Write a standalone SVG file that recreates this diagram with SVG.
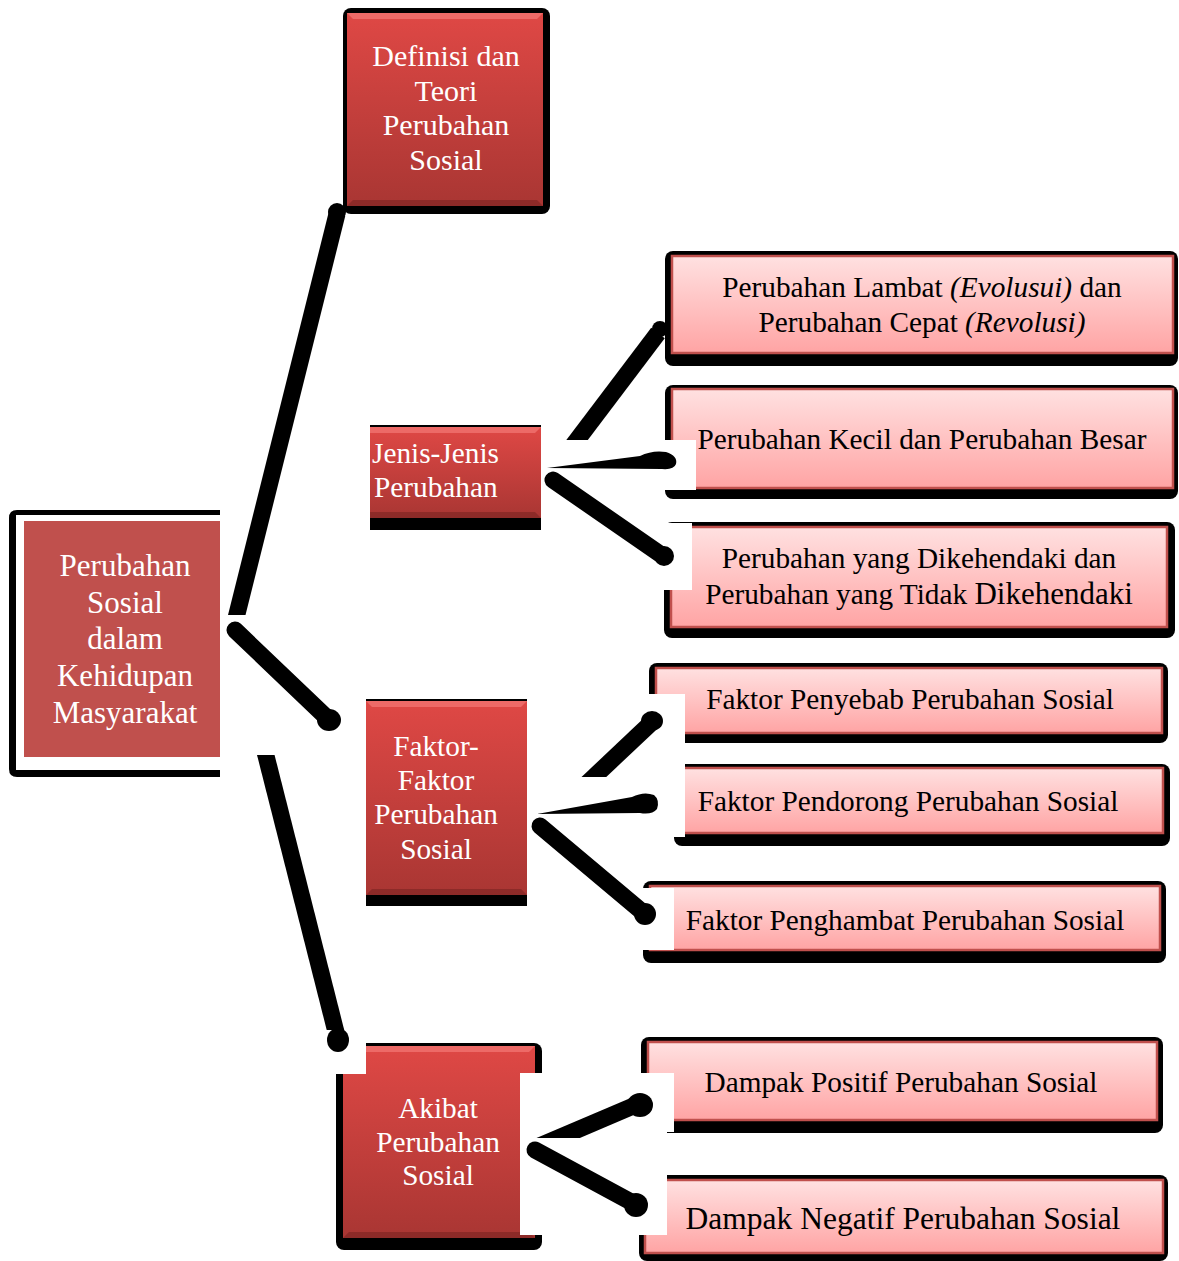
<svg xmlns="http://www.w3.org/2000/svg" width="1179" height="1261" viewBox="0 0 1179 1261">
<defs>
<linearGradient id="red" x1="0" y1="0" x2="0" y2="1">
<stop offset="0" stop-color="#DF4845"/><stop offset="1" stop-color="#A93633"/>
</linearGradient>
<linearGradient id="pink" x1="0" y1="0" x2="0" y2="1">
<stop offset="0" stop-color="#FFE1E1"/><stop offset="1" stop-color="#FFA4A4"/>
</linearGradient>
<clipPath id="clipA1"><rect x="500" y="1060" width="200" height="78"/></clipPath>
<clipPath id="clipK1"><rect x="500" y="690" width="200" height="87"/></clipPath>
</defs>
<style>
.sh{fill:#000}
.rd{fill:url(#red)}
.pk{fill:url(#pink);stroke:#C0504D;stroke-width:2.5}
.hi{fill:#F27673;opacity:.75}
.lo{fill:#7A2321;opacity:.6}
.wt{font-family:"Liberation Serif","Times New Roman",serif;font-size:30px;fill:#fff;text-anchor:middle}
.bt{font-family:"Liberation Serif","Times New Roman",serif;font-size:29.3px;fill:#000;text-anchor:middle}
.ln{stroke:#000;stroke-width:17;fill:none}
.occ{fill:#fff}
.blob{fill:#000}
</style>
<rect width="1179" height="1261" fill="#fff"/>

<g id="root">
<path class="sh" d="M220,510 H17 Q9,510 9,518 V769 Q9,777 17,777 H220 Z"/>
<rect x="16" y="515" width="204" height="255" fill="#fff"/>
<rect x="24" y="521" width="196" height="236" fill="#C0504D"/>
<text class="wt" style="font-size:31px"><tspan x="125" y="576">Perubahan</tspan><tspan x="125" y="613">Sosial</tspan><tspan x="125" y="649">dalam</tspan><tspan x="125" y="686">Kehidupan</tspan><tspan x="125" y="723">Masyarakat</tspan></text>
</g>

<g id="definisi">
<rect class="sh" x="343" y="8" width="207" height="206" rx="8"/>
<rect class="rd" x="347" y="13" width="196" height="193"/>
<path class="hi" d="M347,13 H543 L537,19 H353 Z"/>
<path class="lo" d="M347,206 H543 L537,200 H353 Z"/>
<text class="wt"><tspan x="446" y="66">Definisi dan</tspan><tspan x="446" y="101">Teori</tspan><tspan x="446" y="135">Perubahan</tspan><tspan x="446" y="170">Sosial</tspan></text>
</g>

<g id="jenis">
<rect class="sh" x="370" y="425" width="171" height="105"/>
<rect class="rd" x="370" y="427" width="171" height="91"/>
<path class="hi" d="M370,427 H541 L535,433 H370 Z"/>
<path class="lo" d="M370,518 H541 L535,512 H370 Z"/>
<text class="wt" style="text-anchor:start;font-size:29.3px"><tspan x="372" y="463">Jenis-Jenis</tspan><tspan x="374" y="497">Perubahan</tspan></text>
</g>

<g id="faktor">
<rect class="sh" x="366" y="699" width="161" height="207"/>
<rect class="rd" x="366" y="701" width="161" height="194"/>
<path class="hi" d="M366,701 H527 L521,707 H372 Z"/>
<path class="lo" d="M366,895 H527 L521,889 H372 Z"/>
<text class="wt" style="font-size:29.3px"><tspan x="436" y="756">Faktor-</tspan><tspan x="436" y="790">Faktor</tspan><tspan x="436" y="824">Perubahan</tspan><tspan x="436" y="859">Sosial</tspan></text>
</g>

<g id="akibat">
<rect class="sh" x="336" y="1043" width="206" height="207" rx="8"/>
<rect class="rd" x="343" y="1046" width="192" height="192"/>
<path class="hi" d="M343,1046 H535 L529,1052 H349 Z"/>
<path class="lo" d="M343,1238 H535 L529,1232 H349 Z"/>
<text class="wt" style="font-size:29.3px"><tspan x="438" y="1118">Akibat</tspan><tspan x="438" y="1152">Perubahan</tspan><tspan x="438" y="1185">Sosial</tspan></text>
</g>

<g id="lambat">
<rect class="sh" x="665" y="251" width="513" height="115" rx="8"/>
<rect class="pk" x="672" y="256" width="501" height="97"/>
<text class="bt"><tspan x="922" y="297">Perubahan Lambat <tspan font-style="italic">(Evolusui)</tspan> dan</tspan><tspan x="922" y="332">Perubahan Cepat <tspan font-style="italic">(Revolusi)</tspan></tspan></text>
</g>

<g id="kecil">
<rect class="sh" x="665" y="385" width="513" height="114" rx="8"/>
<rect class="pk" x="672" y="389" width="501" height="99"/>
<text class="bt" x="922" y="449">Perubahan Kecil dan Perubahan Besar</text>
</g>

<g id="dikehendaki">
<rect class="sh" x="664" y="522" width="511" height="116" rx="8"/>
<rect class="pk" x="671" y="527" width="496" height="100"/>
<text class="bt"><tspan x="919" y="568">Perubahan yang Dikehendaki dan</tspan><tspan x="919" y="604">Perubahan yang Tidak <tspan style="font-size:31px">Dikehendaki</tspan></tspan></text>
</g>

<g id="penyebab">
<rect class="sh" x="649" y="663" width="519" height="80" rx="8"/>
<rect class="pk" x="656" y="668" width="506" height="65"/>
<text class="bt" x="910" y="709">Faktor Penyebab Perubahan Sosial</text>
</g>

<g id="pendorong">
<rect class="sh" x="674" y="764" width="496" height="82" rx="8"/>
<rect class="pk" x="680" y="768" width="483" height="65"/>
<text class="bt" x="908" y="811">Faktor Pendorong Perubahan Sosial</text>
</g>

<g id="penghambat">
<rect class="sh" x="643" y="881" width="523" height="82" rx="8"/>
<rect class="pk" x="650" y="886" width="510" height="64"/>
<text class="bt" x="905" y="930">Faktor Penghambat Perubahan Sosial</text>
</g>

<g id="positif">
<rect class="sh" x="641" y="1037" width="522" height="96" rx="8"/>
<rect class="pk" x="648" y="1042" width="509" height="78"/>
<text class="bt" x="901" y="1092">Dampak Positif Perubahan Sosial</text>
</g>

<g id="negatif">
<rect class="sh" x="639" y="1175" width="529" height="86" rx="8"/>
<rect class="pk" x="645" y="1180" width="518" height="73"/>
<text class="bt" x="903" y="1229" style="font-size:31.5px">Dampak Negatif Perubahan Sosial</text>
</g>

<g id="connectors">
<line class="ln" x1="233" y1="630" x2="337" y2="214"/>
<line class="ln" x1="262" y1="740" x2="337" y2="1036"/>
<line class="ln" x1="568" y1="452" x2="658" y2="333"/>
<g class="occ">
<rect x="220" y="615" width="63" height="140"/>
<rect x="542" y="440" width="154" height="50"/>
<rect x="655" y="523" width="37" height="67"/>
<rect x="628" y="694" width="57" height="143"/>
<rect x="535" y="777" width="95" height="60"/>
<rect x="628" y="888" width="46" height="62"/>
<rect x="320" y="1030" width="46" height="44"/>
<rect x="520" y="1073" width="147" height="162"/>
<rect x="630" y="1073" width="44" height="59"/>
</g>
<line class="ln" x1="578" y1="792" x2="650" y2="724" clip-path="url(#clipK1)" stroke-width="18"/>
<line class="ln" x1="235" y1="630" x2="325" y2="716" stroke-linecap="round"/>
<line class="ln" x1="553" y1="480" x2="660" y2="554" stroke-linecap="round"/>
<line class="ln" x1="540" y1="826" x2="640" y2="910" stroke-linecap="round"/>
<line class="ln" x1="530" y1="1150" x2="638" y2="1104" clip-path="url(#clipA1)" stroke-width="18"/>
<line class="ln" x1="535" y1="1150" x2="633" y2="1203" stroke-linecap="round" stroke-width="18"/>
<path class="blob" d="M547,468 L640,456 Q652,450 666,452 Q678,456 676,464 Q674,470 662,469 Z"/>
<path class="blob" d="M537,814 L632,797 Q644,791 654,795 Q660,800 657,809 Q652,815 640,813 Z"/>
<circle class="blob" cx="337" cy="212" r="9"/>
<ellipse class="blob" cx="329" cy="720" rx="12" ry="11"/>
<ellipse class="blob" cx="338" cy="1040" rx="11" ry="12"/>
<circle class="blob" cx="660" cy="329" r="8"/>
<ellipse class="blob" cx="664" cy="556" rx="10" ry="10"/>
<ellipse class="blob" cx="652" cy="721" rx="11" ry="10"/>
<ellipse class="blob" cx="645" cy="914" rx="11" ry="11"/>
<ellipse class="blob" cx="640" cy="1105" rx="13" ry="12"/>
<ellipse class="blob" cx="636" cy="1205" rx="12" ry="12"/>
</g>
</svg>
